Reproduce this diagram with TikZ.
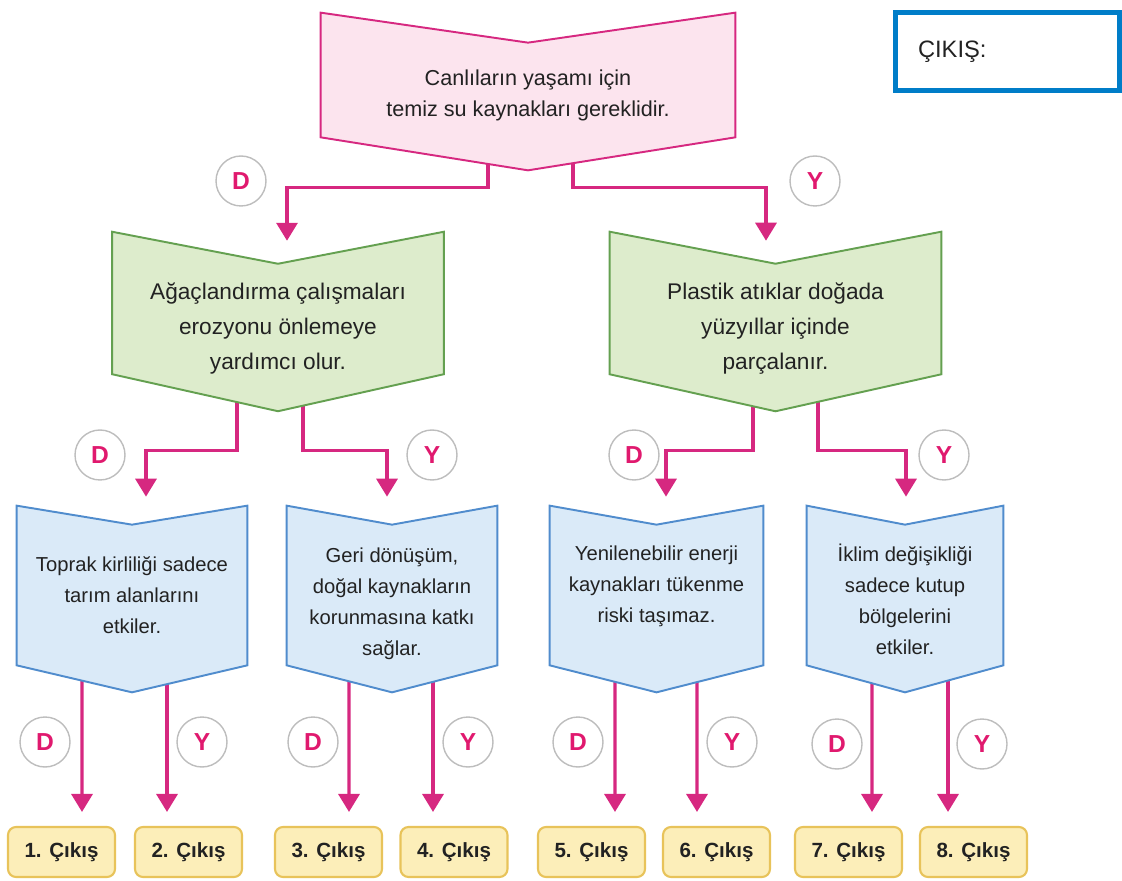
\documentclass[tikz,border=0pt]{standalone}
\usepackage{fontspec}
\setmainfont{Liberation Sans}
\usetikzlibrary{arrows.meta,calc,backgrounds}

\definecolor{magline}{HTML}{D62880}
\definecolor{ansmag}{HTML}{E0196E}
\definecolor{ringgray}{HTML}{BDBDBD}
\definecolor{pinkfill}{HTML}{FCE4EE}
\definecolor{greenfill}{HTML}{DDECCC}
\definecolor{greenline}{HTML}{64A050}
\definecolor{bluefill}{HTML}{DAEAF8}
\definecolor{blueline}{HTML}{508CCD}
\definecolor{exitfill}{HTML}{FCEEB9}
\definecolor{exitline}{HTML}{E8C35A}
\definecolor{outline}{HTML}{007DC8}
\definecolor{txt}{HTML}{222222}

\tikzset{
  arr/.style={magline,line width=1.9pt,-{Triangle[width=0.42cm,length=0.36cm]}},
  flagtext/.style={align=center,inner sep=0pt,text=txt},
  pinkbox/.style={flagtext,minimum width=8.28cm,minimum height=1.88cm,font=\fontsize{12.3}{17.6}\selectfont},
  greenbox/.style={flagtext,minimum width=6.62cm,minimum height=2.16cm,font=\fontsize{12.9}{19.9}\selectfont},
  bluebox/.style={flagtext,minimum height=2.8cm,font=\fontsize{11.5}{17.6}\selectfont},
  pinkshape/.style={draw=magline,fill=pinkfill,line width=1.1pt},
  greenshape/.style={draw=greenline,fill=greenfill,line width=1.1pt},
  blueshape/.style={draw=blueline,fill=bluefill,line width=1.1pt},
  ring/.style={circle,draw=ringgray,line width=0.8pt,minimum size=1cm,inner sep=0pt,text=ansmag,font=\fontsize{14}{14}\bfseries\selectfont},
  exitbox/.style={draw=exitline,fill=exitfill,line width=1.2pt,rounded corners=0.16cm,minimum width=2.14cm,minimum height=1cm,text=txt,font=\fontsize{11.7}{14}\bfseries\selectfont},
  outbox/.style={draw=outline,line width=0.1cm,minimum height=1.56cm,text width=3.58cm,inner xsep=0.45cm,align=left,text=txt,font=\fontsize{13.5}{16}\selectfont}
}

% outline of a notched box: node, top notch, bottom tip, style
\newcommand\flagshape[4]{%
  \draw[#4] ($(#1.north west)+(0,-#2)$) -- (#1.north) -- ($(#1.north east)+(0,-#2)$)
    -- (#1.south east) -- ($(#1.south)+(0,#3)$) -- (#1.south west) -- cycle;}
% struts to push the text lower or higher in a box
\newcommand\up[1]{\rule{0pt}{#1}}
\newcommand\dn[1]{\rule[-#1]{0pt}{1pt}}

\begin{document}
\begin{tikzpicture}[x=0.02cm,y=-0.02cm]
\useasboundingbox (0,0) rectangle (1122,881);

% statements
\node[pinkbox] (top) at (528,90) {\up{14.6pt}Canlıların yaşamı için\\temiz su kaynakları gereklidir.};
\node[greenbox] (gl) at (278,319) {\up{20pt}Ağaçlandırma çalışmaları\\erozyonu önlemeye\\yardımcı olur.};
\node[greenbox] (gr) at (775.5,319) {\up{20pt}Plastik atıklar doğada\\yüzyıllar içinde\\parçalanır.};
\node[bluebox,minimum width=4.6cm] (b1) at (132,595) {Toprak kirliliği sadece\\tarım alanlarını\\etkiler.};
\node[bluebox,minimum width=4.2cm] (b2) at (392,595) {\up{18pt}Geri dönüşüm,\\doğal kaynakların\\korunmasına katkı\\sağlar.};
\node[bluebox,minimum width=4.26cm] (b3) at (656.5,595) {Yenilenebilir enerji\\kaynakları tükenme\\riski taşımaz.\dn{12.5pt}};
\node[bluebox,minimum width=3.92cm] (b4) at (905,595) {\up{15.3pt}İklim değişikliği\\sadece kutup\\bölgelerini\\etkiler.};

% exits
\foreach \i/\x in {1/61.5,2/188.5,3/328.5,4/454,5/591.5,6/716.5,7/848.5,8/973.5}
  \node[exitbox] (e\i) at (\x,852) {\i. Çıkış};

% D / Y rings
\node[ring] (d0) at (241,181) {D};
\node[ring] (y0) at (815,181) {Y};
\node[ring] (d1) at (100,455) {D};
\node[ring] (y1) at (432,455) {Y};
\node[ring] (d2) at (634,455) {D};
\node[ring] (y2) at (944,455) {Y};
\node[ring] (d3) at (45,742) {D};
\node[ring] (y3) at (202,742) {Y};
\node[ring] (d4) at (313,742) {D};
\node[ring] (y4) at (468,742) {Y};
\node[ring] (d5) at (578,742) {D};
\node[ring] (y5) at (732,742) {Y};
\node[ring] (d6) at (837,744) {D};
\node[ring] (y6) at (982,744) {Y};

\node[outbox] (cikis) at (1007.5,51.5) {ÇIKIŞ:};

\begin{pgfonlayer}{background}
  \draw[arr] ($(top.south)+(-40,0)$) -- ++(0,50) -| ($(gl.north)+(9,-23)$);
  \draw[arr] ($(top.south)+(45,0)$) -- ++(0,50) -| ($(gr.north)+(-9.5,-23)$);
  \draw[arr] ($(gl.south)+(-41,0)$) -- ++(0,76) -| ($(b1.north)+(14,-28)$);
  \draw[arr] ($(gl.south)+(25,0)$) -- ++(0,76) -| ($(b2.north)+(-5,-28)$);
  \draw[arr] ($(gr.south)+(-22.5,0)$) -- ++(0,76) -| ($(b3.north)+(9.5,-28)$);
  \draw[arr] ($(gr.south)+(42.5,0)$) -- ++(0,76) -| ($(b4.north)+(1,-28)$);
  \draw[arr] ($(b1.south)+(-50,0)$) -- ($(e1.north)+(20.5,-14)$);
  \draw[arr] ($(b1.south)+(35,0)$) -- ($(e2.north)+(-21.5,-14)$);
  \draw[arr] ($(b2.south)+(-43,0)$) -- ($(e3.north)+(20.5,-14)$);
  \draw[arr] ($(b2.south)+(41,0)$) -- ($(e4.north)+(-21,-14)$);
  \draw[arr] ($(b3.south)+(-41.5,0)$) -- ($(e5.north)+(23.5,-14)$);
  \draw[arr] ($(b3.south)+(40.5,0)$) -- ($(e6.north)+(-19.5,-14)$);
  \draw[arr] ($(b4.south)+(-33,0)$) -- ($(e7.north)+(23.5,-14)$);
  \draw[arr] ($(b4.south)+(43,0)$) -- ($(e8.north)+(-25.5,-14)$);
  \flagshape{top}{30}{33}{pinkshape}
  \flagshape{gl}{32}{37}{greenshape}
  \flagshape{gr}{32}{37}{greenshape}
  \flagshape{b1}{19}{27}{blueshape}
  \flagshape{b2}{19}{27}{blueshape}
  \flagshape{b3}{19}{27}{blueshape}
  \flagshape{b4}{19}{27}{blueshape}
\end{pgfonlayer}
\end{tikzpicture}
\end{document}
